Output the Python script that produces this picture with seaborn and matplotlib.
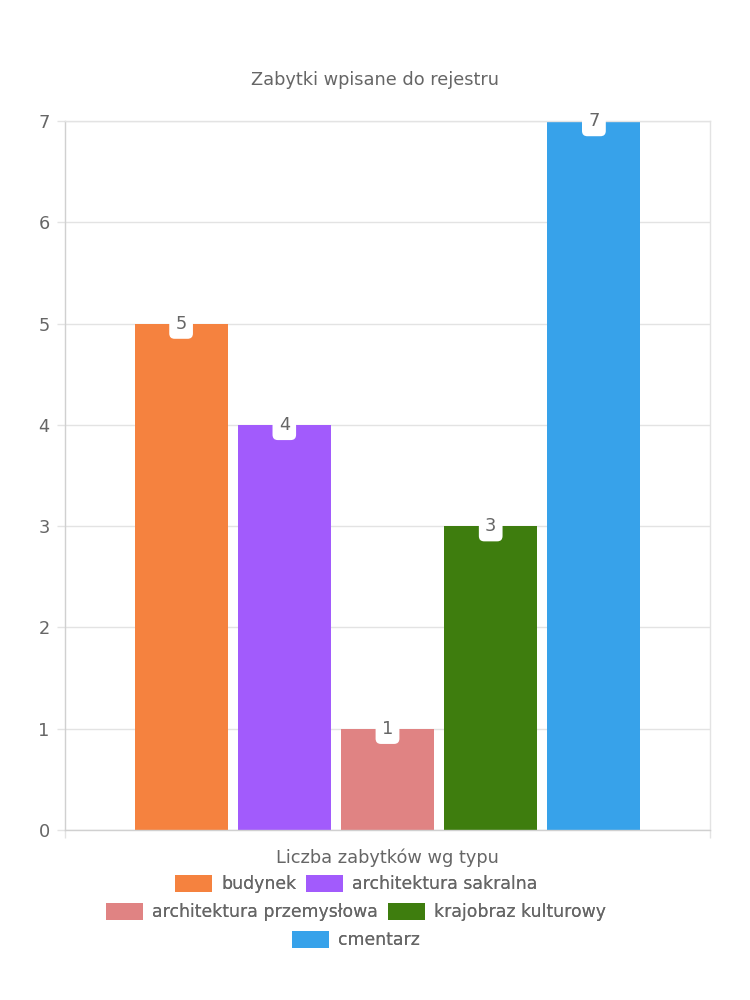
import matplotlib
matplotlib.use("Agg")
import matplotlib.pyplot as plt
import seaborn as sns
import pandas as pd
from matplotlib.patches import Patch

title = "Zabytki wpisane do rejestru"
category = ["Liczba zabytków wg typu"]
types = ["budynek", "architektura sakralna", "architektura przemysłowa",
         "krajobraz kulturowy", "cmentarz"]
values = [5, 4, 1, 3, 7]
colors = ["#F5823F", "#A25BFC", "#E08383", "#3E7D0E", "#37A2EA"]
y_ticks = [0, 1, 2, 3, 4, 5, 6, 7]

df = pd.DataFrame({"cat": category * len(types), "type": types, "value": values})

sns.set_theme(style="white")
plt.rcParams["font.family"] = ["DejaVu Sans"]
txt = "#666666"
grid = "#e3e3e3"
fs = 12.8

fig = plt.figure(figsize=(7.5, 10), dpi=100)
ax = fig.add_axes([65/750, 1-830/1000, 645/750, 709/1000])

sns.barplot(data=df, x="cat", y="value", hue="type", hue_order=types,
            palette=colors, width=0.8, gap=0.1, legend=False, ax=ax,
            saturation=1, edgecolor="none")

ax.set_ylim(0, 7)
ax.set_xlim(-0.5, 0.5)
ax.set_yticks(y_ticks)
ax.set_yticklabels([str(t) for t in y_ticks], fontsize=fs, color=txt)
ax.yaxis.grid(True, color=grid, linewidth=1)
ax.set_axisbelow(True)
for s in ax.spines.values():
    s.set_visible(True)
    s.set_color(grid)
    s.set_linewidth(1)
ax.spines["left"].set_color("#d0d0d0")
ax.spines["bottom"].set_color("#d0d0d0")
ax.tick_params(axis="y", length=6, width=1, color=grid, pad=5, left=True)
ax.tick_params(axis="x", length=0, pad=13, labelsize=fs, labelcolor=txt)
ax.set_xticks([-0.5, 0.5], minor=True)
ax.tick_params(axis="x", which="minor", length=6, width=1, color=grid, bottom=True)
ax.set_xlabel("")
ax.set_ylabel("")

# value labels
for patch, v in zip(ax.patches, values):
    cx = patch.get_x() + patch.get_width() / 2
    ax.annotate(str(v), (cx, v), xytext=(0, 0), textcoords="offset points",
                ha="center", va="center", fontsize=fs, color=txt,
                bbox=dict(boxstyle="round,pad=0.35,rounding_size=0.3",
                          fc="white", ec="none"))

fig.text(0.5, 1-80/1000, title, ha="center", va="center", fontsize=fs, color=txt)

rows = [[0, 1], [2, 3], [4]]
row_y = [884, 912, 940]
lfs = 12.4
for r, yy in zip(rows, row_y):
    handles = [Patch(facecolor=colors[i], edgecolor="none") for i in r]
    labels = [types[i] for i in r]
    leg = fig.legend(handles, labels, loc="center", bbox_to_anchor=(356/750, 1-yy/1000),
                     ncol=len(r), frameon=False, fontsize=lfs, labelcolor=txt,
                     handlelength=2.15, handleheight=1.2, handletextpad=0.55,
                     columnspacing=0.55, borderpad=0, borderaxespad=0)
    fig.add_artist(leg)

fig.savefig("out.png", dpi=100)
